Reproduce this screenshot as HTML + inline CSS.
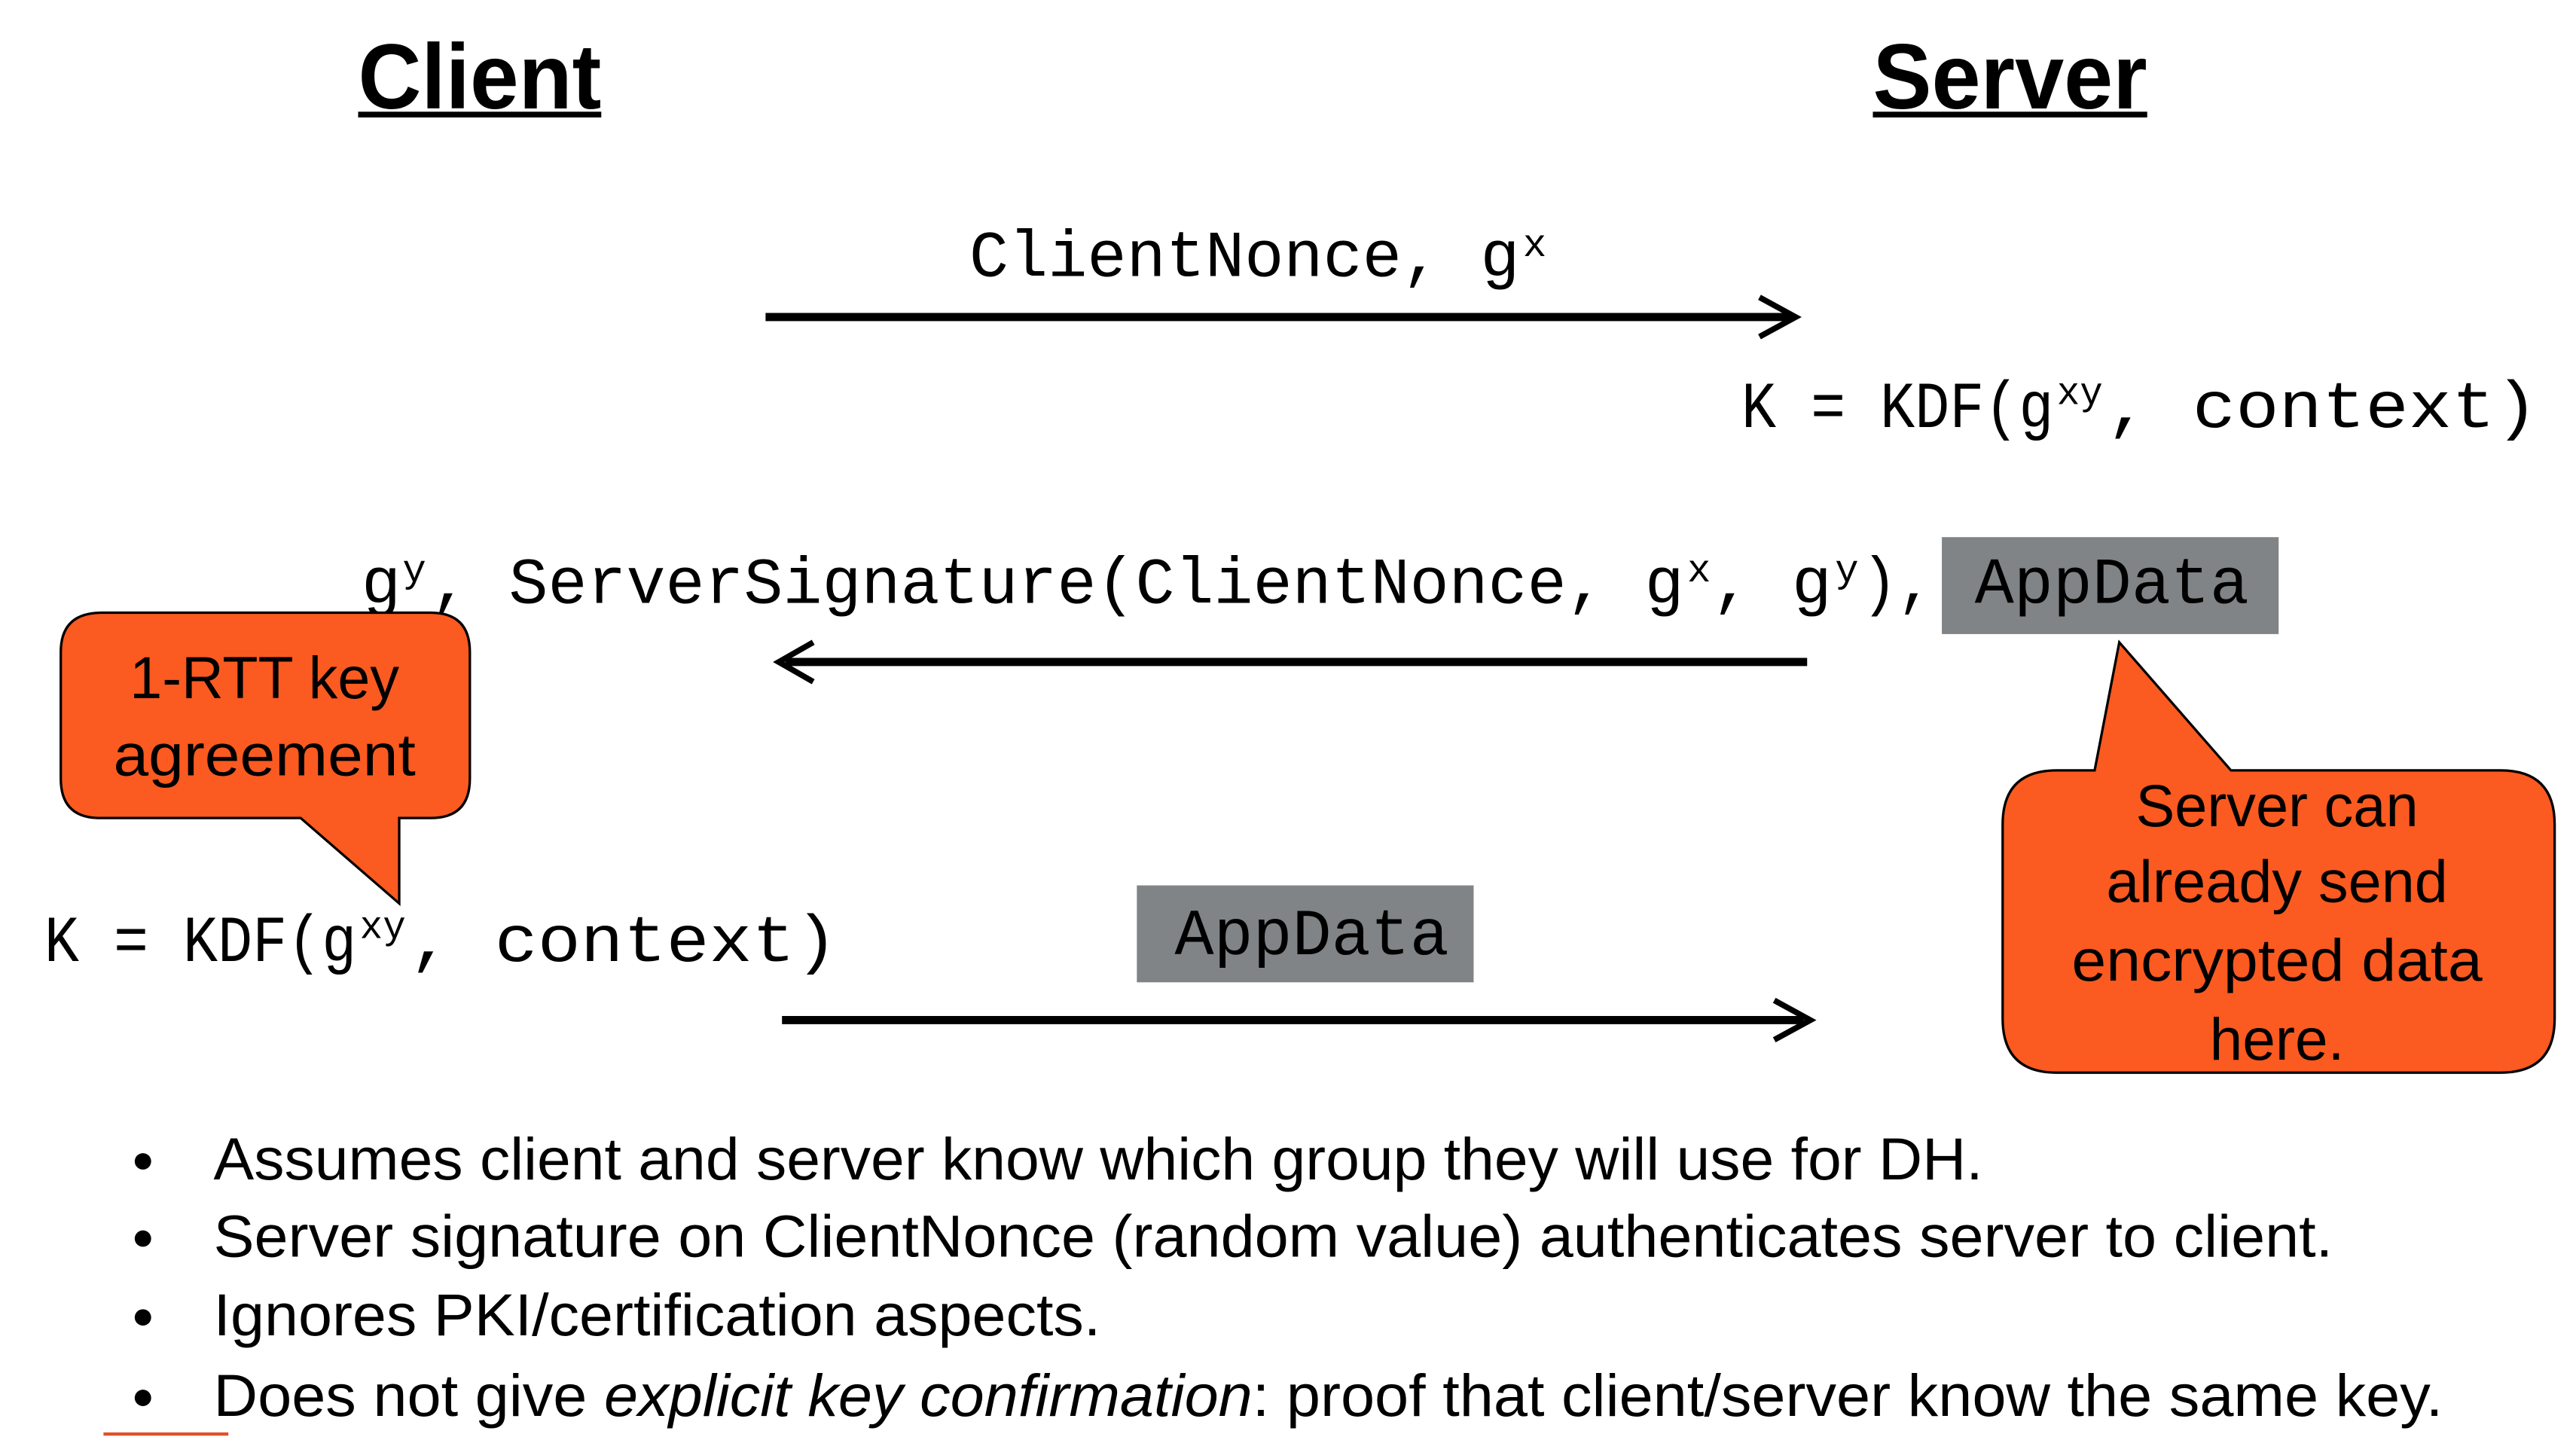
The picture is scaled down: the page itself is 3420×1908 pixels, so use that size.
<!DOCTYPE html>
<html><head><meta charset="utf-8"><style>
html,body{margin:0;padding:0;background:#fff;}
svg{display:block;}
.m{font-family:"Liberation Mono","DejaVu Sans Mono",monospace;font-size:40px;fill:#000;}
.sup{font-size:24px;}
.s{font-family:"Liberation Sans",sans-serif;fill:#000;}
.t{font-family:"Liberation Sans",sans-serif;font-weight:bold;font-size:56px;}
</style></head><body>
<svg width="3420" height="1908" viewBox="0 0 1568 874.8" preserveAspectRatio="none" xmlns="http://www.w3.org/2000/svg">
<rect width="1568" height="875" fill="#fff"/>
<text class="t" x="218" y="66" textLength="148" lengthAdjust="spacingAndGlyphs">Client</text>
<rect x="218" y="68" width="148" height="3.5" fill="#000"/>
<text class="t" x="1140" y="66" textLength="167" lengthAdjust="spacingAndGlyphs">Server</text>
<rect x="1140" y="68" width="167" height="3.5" fill="#000"/>

<text class="m" x="590" y="168" textLength="335" lengthAdjust="spacingAndGlyphs">ClientNonce, g</text>
<text class="m sup" x="927" y="156">x</text>
<line x1="466" y1="193" x2="1090" y2="193" stroke="#000" stroke-width="5"/>
<polyline points="1071,181 1093,193 1071,205" fill="none" stroke="#000" stroke-width="3.5"/>

<text class="m" x="1060" y="260" textLength="190" lengthAdjust="spacingAndGlyphs">K = KDF(g</text>
<text class="m sup" x="1252" y="246" textLength="28" lengthAdjust="spacingAndGlyphs">xy</text>
<text class="m" x="1282" y="260" textLength="263" lengthAdjust="spacingAndGlyphs">, context)</text>

<text class="m" x="220" y="367" textLength="24" lengthAdjust="spacingAndGlyphs">g</text>
<text class="m sup" x="245" y="354">y</text>
<text class="m" x="262" y="367" textLength="763" lengthAdjust="spacingAndGlyphs">, ServerSignature(ClientNonce, g</text>
<text class="m sup" x="1027" y="354">x</text>
<text class="m" x="1042" y="367" textLength="73" lengthAdjust="spacingAndGlyphs">, g</text>
<text class="m sup" x="1117" y="354">y</text>
<text class="m" x="1133" y="367" textLength="44" lengthAdjust="spacingAndGlyphs">),</text>
<rect x="1182" y="327" width="205" height="59" fill="#808486"/>
<text class="m" x="1202" y="367" textLength="167" lengthAdjust="spacingAndGlyphs">AppData</text>
<line x1="478" y1="403" x2="1100" y2="403" stroke="#000" stroke-width="5"/>
<polyline points="495,391 474,403 495,415" fill="none" stroke="#000" stroke-width="3.5"/>

<path d="M62,373 H262 Q286,373 286,397 V474 Q286,498 262,498 H243 V550 L183,498 H61 Q37,498 37,474 V397 Q37,373 62,373 Z" fill="#FB5A20" stroke="#000" stroke-width="1.5"/>
<text class="s" x="161" y="425" font-size="36" text-anchor="middle" textLength="164" lengthAdjust="spacingAndGlyphs">1-RTT key</text>
<text class="s" x="161" y="472" font-size="36" text-anchor="middle" textLength="184" lengthAdjust="spacingAndGlyphs">agreement</text>

<text class="m" x="27" y="585" textLength="190" lengthAdjust="spacingAndGlyphs">K = KDF(g</text>
<text class="m sup" x="219" y="571" textLength="28" lengthAdjust="spacingAndGlyphs">xy</text>
<text class="m" x="249" y="585" textLength="261" lengthAdjust="spacingAndGlyphs">, context)</text>

<rect x="692" y="539" width="205" height="59" fill="#808486"/>
<text class="m" x="715" y="581" textLength="167" lengthAdjust="spacingAndGlyphs">AppData</text>
<line x1="476" y1="621" x2="1098" y2="621" stroke="#000" stroke-width="5"/>
<polyline points="1080,609 1102,621 1080,633" fill="none" stroke="#000" stroke-width="3.5"/>

<path d="M1252,469 H1275 L1290,391 L1358,469 H1522 Q1555,469 1555,502 V620 Q1555,653 1522,653 H1252 Q1219,653 1219,620 V502 Q1219,469 1252,469 Z" fill="#FB5A20" stroke="#000" stroke-width="1.5"/>
<text class="s" x="1386" y="503" font-size="36" text-anchor="middle" textLength="172" lengthAdjust="spacingAndGlyphs">Server can</text>
<text class="s" x="1386" y="549" font-size="36" text-anchor="middle" textLength="208" lengthAdjust="spacingAndGlyphs">already send</text>
<text class="s" x="1386" y="597" font-size="36" text-anchor="middle" textLength="250" lengthAdjust="spacingAndGlyphs">encrypted data</text>
<text class="s" x="1386" y="645" font-size="36" text-anchor="middle" textLength="82" lengthAdjust="spacingAndGlyphs">here.</text>

<g class="s" font-size="36">
<circle cx="87" cy="707" r="5" fill="#000"/>
<text x="130" y="718" textLength="1077" lengthAdjust="spacingAndGlyphs">Assumes client and server know which group they will use for DH.</text>
<circle cx="87" cy="754" r="5" fill="#000"/>
<text x="130" y="765" textLength="1290" lengthAdjust="spacingAndGlyphs">Server signature on ClientNonce (random value) authenticates server to client.</text>
<circle cx="87" cy="802" r="5" fill="#000"/>
<text x="130" y="813" textLength="540" lengthAdjust="spacingAndGlyphs">Ignores PKI/certification aspects.</text>
<circle cx="87" cy="851" r="5" fill="#000"/>
<text x="130" y="862" textLength="1357" lengthAdjust="spacingAndGlyphs">Does not give <tspan font-style="italic">explicit key confirmation</tspan>: proof that client/server know the same key.</text>
</g>
<rect x="63" y="872" width="76" height="2" fill="#E0522A"/>
</svg>
</body></html>
